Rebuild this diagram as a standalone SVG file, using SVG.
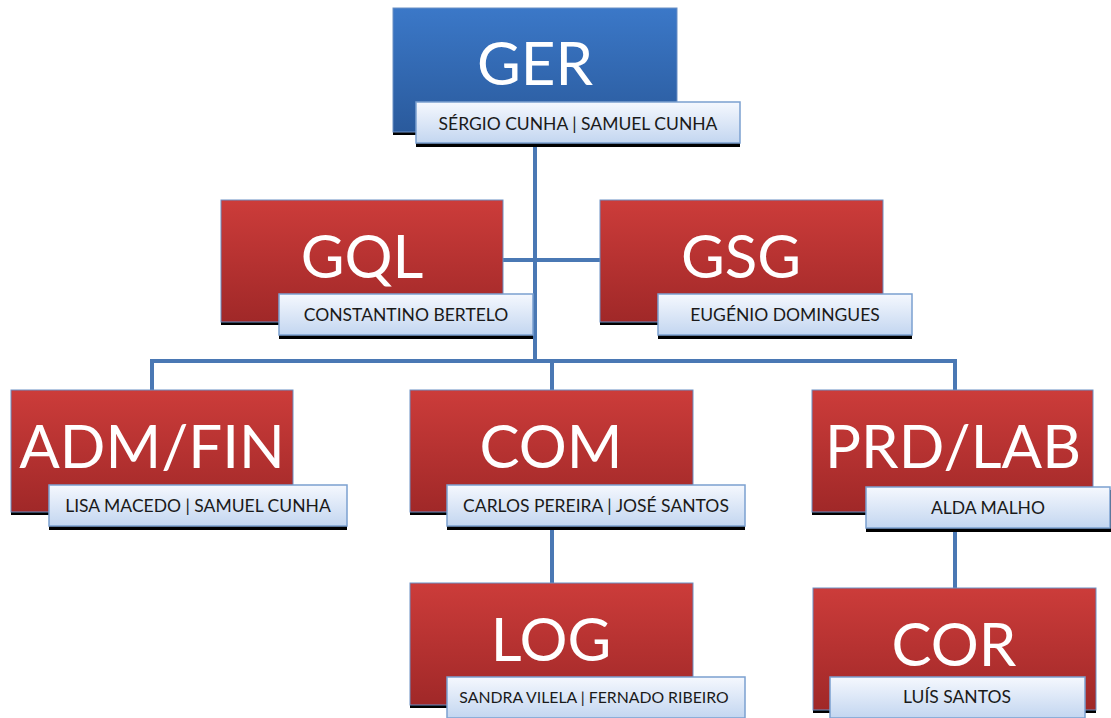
<svg xmlns="http://www.w3.org/2000/svg" width="1111" height="718" viewBox="0 0 1111 718">
<defs>
<linearGradient id="gBlue" x1="0" y1="0" x2="0" y2="1"><stop offset="0" stop-color="#3b78c8"/><stop offset="1" stop-color="#2a5a9c"/></linearGradient>
<linearGradient id="gRed" x1="0" y1="0" x2="0" y2="1"><stop offset="0" stop-color="#cc3c3a"/><stop offset="1" stop-color="#a02828"/></linearGradient>
<linearGradient id="gLab" x1="0" y1="0" x2="0" y2="1"><stop offset="0" stop-color="#f5f8fe"/><stop offset="1" stop-color="#c3d6f0"/></linearGradient>
</defs>
<style>
.box{stroke:#6a8fc4;stroke-width:1}
.sh{fill:#000}
.lab{fill:url(#gLab);stroke:#7ba0d0;stroke-width:1.5}
.t{font-family:Lato,"Open Sans",sans-serif;font-size:60px;fill:#fff;text-anchor:middle}
.s{font-family:Lato,"Open Sans",sans-serif;font-size:17.5px;fill:#1a1a1a;text-anchor:middle}
.c{fill:none;stroke:#4a78b4;stroke-width:4}
</style>
<g id="connectors">
<path class="c" d="M535 145 V360"/>
<path class="c" d="M503 260 H600"/>
<path class="c" d="M152 390 V361 H955 V390"/>
<path class="c" d="M552 361 V390"/>
<path class="c" d="M552 528 V583"/>
<path class="c" d="M955 530 V588"/>
</g>
<g id="GER">
<rect class="sh" x="393" y="11" width="284" height="124"/>
<rect class="box" x="393" y="8" width="284" height="124" fill="url(#gBlue)"/>
<text class="t" x="535" y="85">GER</text>
<rect class="sh" x="416" y="105" width="324" height="42"/>
<rect class="lab" x="416" y="102" width="324" height="41"/>
<text class="s" x="578" y="130">SÉRGIO CUNHA | SAMUEL CUNHA</text>
</g>
<g id="GQL">
<rect class="sh" x="221" y="203" width="282" height="122"/>
<rect class="box" x="221" y="200" width="282" height="122" fill="url(#gRed)"/>
<text class="t" x="362" y="278">GQL</text>
<rect class="sh" x="279" y="297" width="254" height="42"/>
<rect class="lab" x="279" y="294" width="254" height="41"/>
<text class="s" x="406" y="321">CONSTANTINO BERTELO</text>
</g>
<g id="GSG">
<rect class="sh" x="600" y="203" width="283" height="122"/>
<rect class="box" x="600" y="200" width="283" height="122" fill="url(#gRed)"/>
<text class="t" x="741" y="278">GSG</text>
<rect class="sh" x="658" y="297" width="254" height="42"/>
<rect class="lab" x="658" y="294" width="254" height="41"/>
<text class="s" x="785" y="321">EUGÉNIO DOMINGUES</text>
</g>
<g id="ADMFIN">
<rect class="sh" x="11" y="393" width="282" height="122"/>
<rect class="box" x="11" y="390" width="282" height="122" fill="url(#gRed)"/>
<text class="t" x="152" y="468">ADM/FIN</text>
<rect class="sh" x="49" y="488" width="298" height="42"/>
<rect class="lab" x="49" y="485" width="298" height="41"/>
<text class="s" x="198" y="512">LISA MACEDO | SAMUEL CUNHA</text>
</g>
<g id="COM">
<rect class="sh" x="410" y="393" width="283" height="122"/>
<rect class="box" x="410" y="390" width="283" height="122" fill="url(#gRed)"/>
<text class="t" x="551" y="468">COM</text>
<rect class="sh" x="447" y="488" width="298" height="42"/>
<rect class="lab" x="447" y="485" width="298" height="41"/>
<text class="s" x="596" y="512">CARLOS PEREIRA | JOSÉ SANTOS</text>
</g>
<g id="PRDLAB">
<rect class="sh" x="812" y="393" width="281" height="122"/>
<rect class="box" x="812" y="390" width="281" height="122" fill="url(#gRed)"/>
<text class="t" x="953" y="468">PRD/LAB</text>
<rect class="sh" x="866" y="490" width="245" height="42"/>
<rect class="lab" x="866" y="487" width="244" height="41"/>
<text class="s" x="988" y="514">ALDA MALHO</text>
</g>
<g id="LOG">
<rect class="sh" x="410" y="586" width="283" height="122"/>
<rect class="box" x="410" y="583" width="283" height="122" fill="url(#gRed)"/>
<text class="t" x="551" y="661">LOG</text>
<rect class="lab" x="447" y="677" width="298" height="41"/>
<text class="s" x="594" y="703" style="font-size:15.8px">SANDRA VILELA | FERNADO RIBEIRO</text>
</g>
<g id="COR">
<rect class="sh" x="813" y="591" width="283" height="122"/>
<rect class="box" x="813" y="588" width="283" height="122" fill="url(#gRed)"/>
<text class="t" x="954" y="666">COR</text>
<rect class="lab" x="830" y="677" width="255" height="41"/>
<text class="s" x="957" y="703">LUÍS SANTOS</text>
</g>
</svg>
